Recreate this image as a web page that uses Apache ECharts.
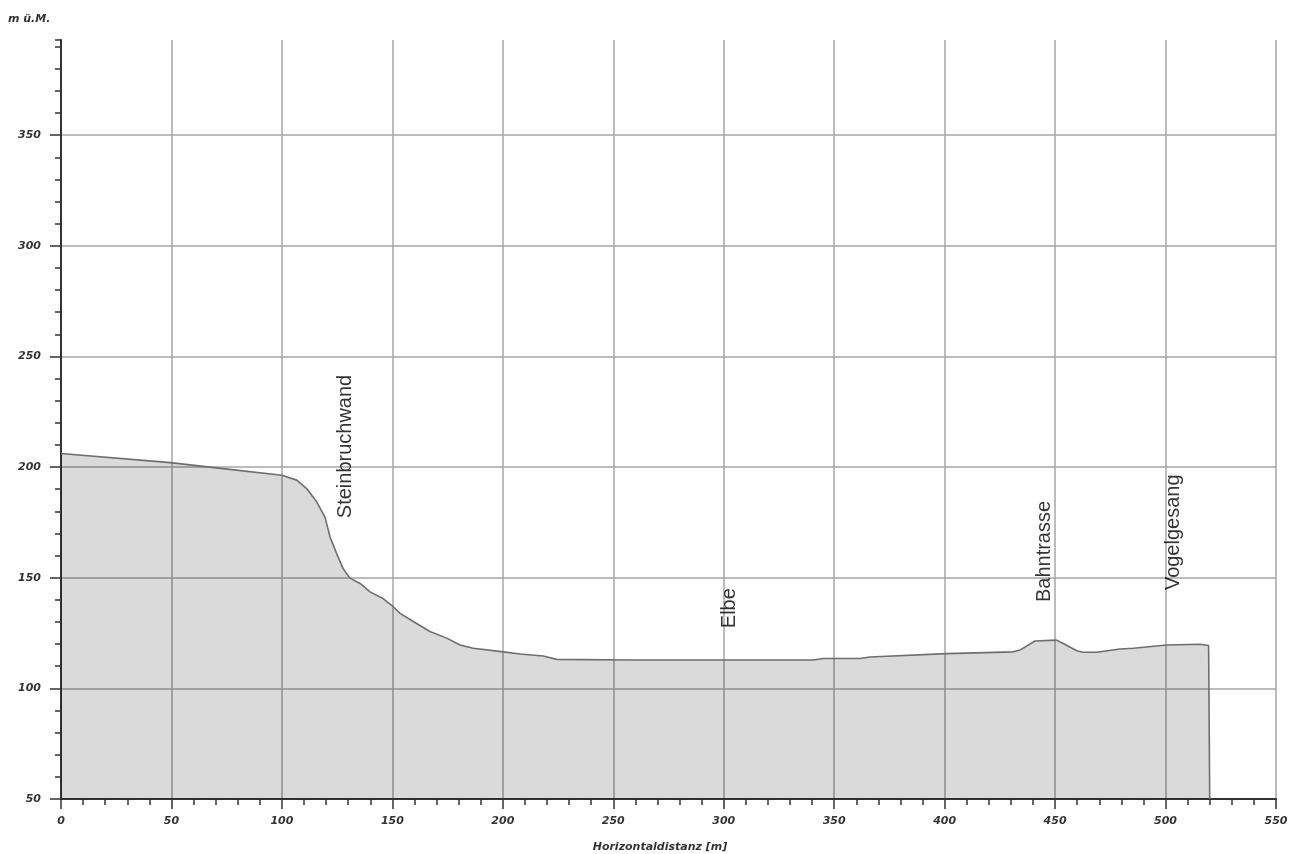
<!DOCTYPE html>
<html>
<head>
<meta charset="utf-8">
<title>Höhenprofil</title>
<script src="https://cdn.jsdelivr.net/npm/echarts@6/dist/echarts.min.js"></script>
<style>
  html, body { margin: 0; padding: 0; background: #fff; }
  #chart { width: 1296px; height: 854px; }
</style>
</head>
<body>
<div id="chart"></div>
<script>
// Terrain profile: horizontal distance [m] and elevation [m ü.M.]
const distances = [0, 49.5, 73.3, 100, 106.7, 111.2, 115.8, 119.5, 121.8, 124.8, 127.7, 130.8,
  135.4, 139.9, 145.8, 150.4, 153.5, 159.5, 167, 174.6, 180.6, 186.6, 200.2, 207.8, 218.3,
  224.4, 257.6, 300, 340.6, 345.1, 361.7, 366.2, 400.9, 431.1, 434.1, 440.9, 450.7, 453.7,
  459.8, 462.8, 468.8, 479.4, 485.4, 500.5, 515.6, 519.5, 520];
const elevations = [206.1, 202, 199.3, 196.3, 194.1, 190.3, 184.2, 177.4, 168.4, 160.9, 154.1, 149.8,
  147.4, 143.6, 140.6, 136.9, 133.9, 130.2, 125.7, 122.7, 119.6, 118.1, 116.5, 115.5, 114.6,
  113.1, 112.8, 112.8, 112.8, 113.5, 113.5, 114.2, 115.7, 116.5, 117.3, 121.4, 121.8, 120.3,
  117, 116.3, 116.3, 117.8, 118.1, 119.6, 119.9, 119.4, 50];

// Place names along the profile (anchored at the start of each vertical label)
const placeNames = ['Steinbruchwand', 'Elbe', 'Bahntrasse', 'Vogelgesang'];
const placeX = [129.0, 302.4, 445.4, 503.8];
const placeY = [176.9, 127.2, 139.0, 144.4];

// Axis settings
const xMin = 0, xMax = 550, xStep = 50;
const yMin = 50, yMax = 393, yStep = 50, yMinorStep = 10;

const axisColor = '#333';
const gridColor = '#a6a6a6';
const tickFont = { fontFamily: 'DejaVu Sans', fontStyle: 'italic', fontWeight: 'bold', fontSize: 11, color: '#333' };

const profile = distances.map((d, i) => [d, elevations[i]]);
const places = placeNames.map((n, i) => [placeX[i], placeY[i], n]);

const chart = echarts.init(document.getElementById('chart'), null, { renderer: 'canvas' });

chart.setOption({
  animation: false,
  backgroundColor: '#fff',
  title: {
    text: 'm ü.M.',
    left: 3,
    top: 9,
    textStyle: Object.assign({}, tickFont)
  },
  grid: { left: 61, right: 20, top: 40, bottom: 55, containLabel: false, outerBoundsMode: 'none' },
  xAxis: {
    type: 'value',
    min: xMin,
    max: xMax,
    interval: xStep,
    name: 'Horizontaldistanz [m]',
    nameLocation: 'middle',
    nameGap: 43,
    nameTextStyle: Object.assign({ padding: [0, 17, 0, 0] }, tickFont),
    axisLine: { show: true, onZero: false, lineStyle: { color: axisColor, width: 2 } },
    axisTick: { show: true, length: 10, lineStyle: { color: axisColor, width: 1.5 } },
    minorTick: { show: true, splitNumber: 5, length: 6, lineStyle: { color: axisColor, width: 1.5 } },
    axisLabel: Object.assign({ margin: 17 }, tickFont),
    splitLine: { show: true, lineStyle: { color: gridColor, width: 1.5 } }
  },
  yAxis: [
    {
      type: 'value',
      min: yMin,
      max: yMax,
      interval: yStep,
      axisLine: { show: true, onZero: false, lineStyle: { color: axisColor, width: 2 } },
      axisTick: { show: true, length: 11, lineStyle: { color: axisColor, width: 1.5 } },
      axisLabel: Object.assign({
        margin: 20,
        showMaxLabel: false,
        formatter: v => (v % yStep === 0 ? String(v) : '')
      }, tickFont),
      splitLine: { show: true, showMaxLine: false, lineStyle: { color: gridColor, width: 1.5 } }
    },
    {
      // minor ticks every 10 m
      type: 'value',
      position: 'left',
      min: yMin,
      max: yMax,
      interval: yMinorStep,
      axisLine: { show: false },
      axisTick: { show: true, length: 6, lineStyle: { color: axisColor, width: 1.5 } },
      axisLabel: { show: false },
      splitLine: { show: false }
    }
  ],
  series: [
    {
      name: 'Gelände',
      type: 'line',
      data: profile,
      yAxisIndex: 0,
      showSymbol: false,
      symbol: 'none',
      lineStyle: { color: '#6e6e6e', width: 1.6 },
      areaStyle: { color: 'rgba(0,0,0,0.145)', opacity: 1, origin: 'start' },
      silent: true
    },
    {
      name: 'Orte',
      type: 'scatter',
      data: places,
      yAxisIndex: 0,
      symbolSize: 1,
      itemStyle: { color: 'rgba(0,0,0,0)' },
      silent: true,
      z: 5,
      label: {
        show: true,
        position: 'inside',
        rotate: 90,
        align: 'left',
        verticalAlign: 'middle',
        formatter: p => p.data[2],
        fontFamily: 'Liberation Sans, Arial, sans-serif',
        fontSize: 20,
        color: '#000'
      }
    }
  ]
});
</script>
</body>
</html>
